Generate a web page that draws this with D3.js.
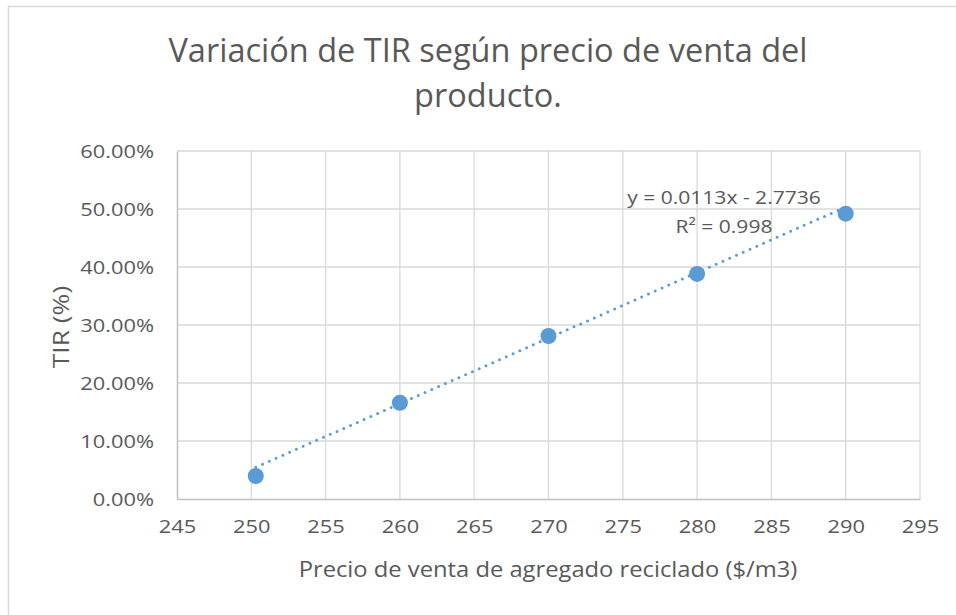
<!DOCTYPE html>
<html>
<head>
<meta charset="utf-8">
<script src="https://cdn.jsdelivr.net/npm/d3@7"></script>
<style>
  html, body { margin: 0; padding: 0; background: #fff; }
  svg { display: block; }
  text { font-family: "Open Sans", Lato, sans-serif; fill: #595959; }
</style>
</head>
<body>
<svg id="chart" width="956" height="615"></svg>
<script>
// ---- Data ----
const precios = [250.3, 260, 270, 280, 290];
const tir = [0.0397, 0.166, 0.281, 0.388, 0.492];
const xTicks = [245, 250, 255, 260, 265, 270, 275, 280, 285, 290, 295];
const yTicks = [0, 0.1, 0.2, 0.3, 0.4, 0.5, 0.6];
const trendSlope = 0.0113;
const trendIntercept = -2.7736;
const trendLabel = "y = 0.0113x - 2.7736";
const r2Label = "R² = 0.998";
const titleLines = ["Variación de TIR según precio de venta del", "producto."];
const xTitle = "Precio de venta de agregado reciclado ($/m3)";
const yTitle = "TIR (%)";

// ---- Layout ----
const svg = d3.select("#chart");
const plot = { left: 177, right: 920, top: 151, bottom: 499 };
const color = "#5b9bd5";
const sx = 1.15;

svg.append("rect")
  .attr("x", 8.5).attr("y", 6.5).attr("width", 960).attr("height", 620)
  .attr("fill", "none").attr("stroke", "#d9d9d9").attr("stroke-width", 1.5);

const x = d3.scaleLinear().domain([245, 295]).range([plot.left, plot.right]);
const y = d3.scaleLinear().domain([0, 0.6]).range([plot.bottom, plot.top]);

// gridlines
svg.append("g").selectAll("line").data(xTicks.slice(1)).join("line")
  .attr("x1", d => x(d)).attr("x2", d => x(d))
  .attr("y1", plot.top).attr("y2", plot.bottom)
  .attr("stroke", "#d9d9d9").attr("stroke-width", 1.3);
svg.append("g").selectAll("line").data(yTicks.slice(1)).join("line")
  .attr("x1", plot.left).attr("x2", plot.right)
  .attr("y1", d => y(d)).attr("y2", d => y(d))
  .attr("stroke", "#d9d9d9").attr("stroke-width", 1.3);

// axes
const xAxis = svg.append("g").attr("transform", `translate(0,${plot.bottom})`)
  .call(d3.axisBottom(x).tickValues(xTicks).tickSize(0).tickPadding(21).tickFormat(d3.format("d")));
xAxis.select(".domain").attr("stroke", "#bfbfbf").attr("stroke-width", 1.5);
xAxis.selectAll("text").style("font-size", "19px").style("font-family", "'Open Sans', sans-serif")
  .attr("fill", "#595959").attr("transform", `scale(${sx},1)`);

const yAxis = svg.append("g").attr("transform", `translate(${plot.left},0)`)
  .call(d3.axisLeft(y).tickValues(yTicks).tickSize(0).tickPadding(20).tickFormat(d3.format(".2%")));
yAxis.select(".domain").attr("stroke", "#bfbfbf").attr("stroke-width", 1.5);
yAxis.selectAll("text").style("font-size", "19px").style("font-family", "'Open Sans', sans-serif")
  .attr("fill", "#595959").attr("transform", `scale(${sx},1)`);

// trendline
const tx = [precios[0], precios[precios.length - 1]];
svg.append("line")
  .attr("x1", x(tx[0])).attr("y1", y(trendSlope * tx[0] + trendIntercept))
  .attr("x2", x(tx[1])).attr("y2", y(trendSlope * tx[1] + trendIntercept))
  .attr("stroke", color).attr("stroke-width", 3)
  .attr("stroke-linecap", "round").attr("stroke-dasharray", "0,7.4");

// points
svg.append("g").selectAll("circle").data(precios).join("circle")
  .attr("cx", d => x(d)).attr("cy", (d, i) => y(tir[i]))
  .attr("r", 8).attr("fill", color);

// trend labels
svg.append("text").attr("transform", "translate(724,204) scale(1.17,1)").attr("text-anchor", "middle")
  .style("font-size", "18px").text(trendLabel);
svg.append("text").attr("transform", "translate(724,233) scale(1.17,1)").attr("text-anchor", "middle")
  .style("font-size", "18px").text(r2Label);

// title
svg.append("g").selectAll("text").data(titleLines).join("text")
  .attr("x", 488).attr("y", (d, i) => 62 + i * 45)
  .attr("text-anchor", "middle").style("font-size", "32.5px").text(d => d);

// axis titles
svg.append("text").attr("transform", "translate(548,577) scale(1.08,1)").attr("text-anchor", "middle")
  .style("font-size", "22px").text(xTitle);
svg.append("text").attr("transform", "translate(60,327) rotate(-90) scale(1.2,1)")
  .attr("text-anchor", "middle").attr("dominant-baseline", "central")
  .style("font-size", "22px").text(yTitle);
</script>
</body>
</html>
